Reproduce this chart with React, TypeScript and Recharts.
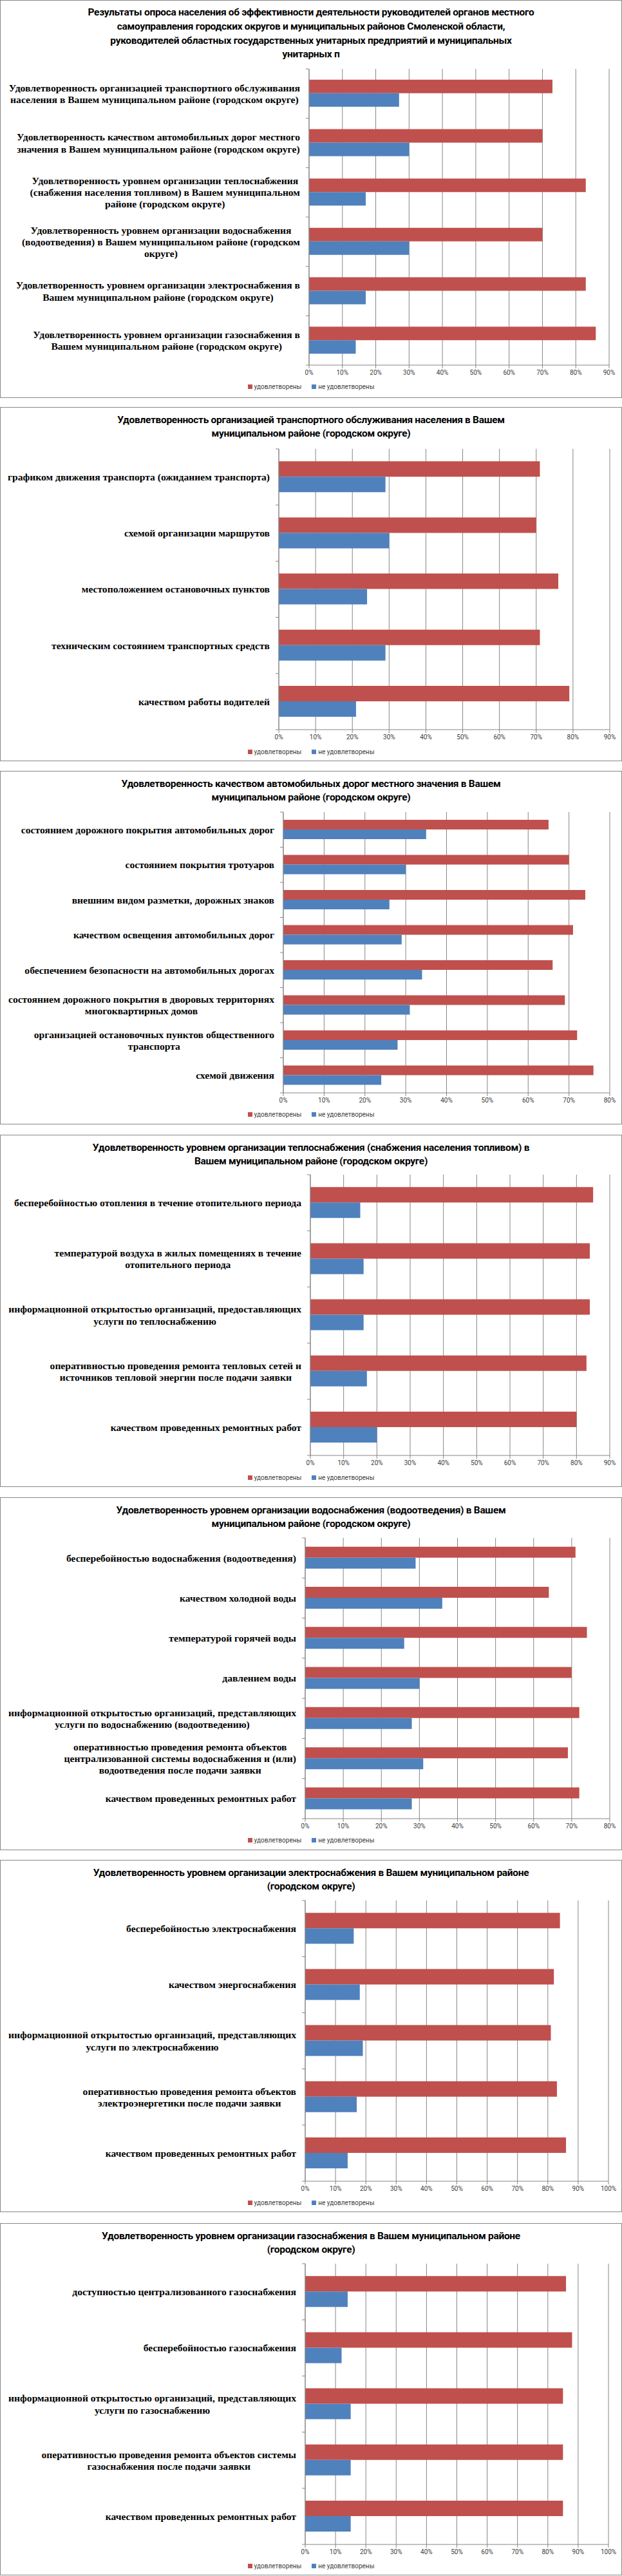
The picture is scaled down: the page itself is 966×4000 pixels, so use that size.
import React from "react";
import { BarChart, Bar, XAxis, YAxis, CartesianGrid, Legend } from "recharts";

const RED = "#C0504D";
const BLUE = "#4F81BD";
const GRID = "#868686";
const W = 966;

// ---- data ----
const seriesNames = ["удовлетворены", "не удовлетворены"];
const seriesColors = [RED, BLUE];

const summaryTitle =
  "Результаты опроса населения об эффективности деятельности руководителей органов местного\nсамоуправления городских округов и муниципальных районов Смоленской области,\nруководителей областных государственных унитарных предприятий и муниципальных\nунитарных п";
const summaryCats = [
  "Удовлетворенность организацией транспортного обслуживания\nнаселения в Вашем муниципальном районе (городском округе)",
  "Удовлетворенность качеством автомобильных дорог местного\nзначения в Вашем муниципальном районе (городском округе)",
  "Удовлетворенность уровнем организации теплоснабжения\n(снабжения населения топливом) в Вашем муниципальном\nрайоне (городском округе)",
  "Удовлетворенность уровнем организации водоснабжения\n(водоотведения) в Вашем муниципальном районе (городском\nокруге)",
  "Удовлетворенность уровнем организации электроснабжения в\nВашем муниципальном районе (городском округе)",
  "Удовлетворенность уровнем организации газоснабжения в\nВашем муниципальном районе (городском округе)",
];
const summaryYes = [73, 70, 83, 70, 83, 86];
const summaryNo = [27, 30, 17, 30, 17, 14];

const transportTitle =
  "Удовлетворенность организацией транспортного обслуживания населения в Вашем\nмуниципальном районе (городском округе)";
const transportCats = [
  "графиком движения транспорта (ожиданием транспорта)",
  "схемой организации маршрутов",
  "местоположением остановочных пунктов",
  "техническим состоянием транспортных средств",
  "качеством работы водителей",
];
const transportYes = [71, 70, 76, 71, 79];
const transportNo = [29, 30, 24, 29, 21];

const roadsTitle =
  "Удовлетворенность качеством автомобильных дорог местного значения в Вашем\nмуниципальном районе (городском округе)";
const roadsCats = [
  "состоянием дорожного покрытия автомобильных дорог",
  "состоянием покрытия тротуаров",
  "внешним видом разметки, дорожных знаков",
  "качеством освещения автомобильных дорог",
  "обеспечением безопасности на автомобильных дорогах",
  "состоянием дорожного покрытия в дворовых территориях\nмногоквартирных домов",
  "организацией остановочных пунктов общественного\nтранспорта",
  "схемой движения",
];
const roadsYes = [65, 70, 74, 71, 66, 69, 72, 76];
const roadsNo = [35, 30, 26, 29, 34, 31, 28, 24];

const heatTitle =
  "Удовлетворенность уровнем организации теплоснабжения (снабжения населения топливом) в\nВашем муниципальном районе (городском округе)";
const heatCats = [
  "бесперебойностью отопления в течение отопительного периода",
  "температурой воздуха в жилых помещениях в течение\nотопительного периода",
  "информационной открытостью организаций, предоставляющих\nуслуги по теплоснабжению",
  "оперативностью проведения ремонта тепловых сетей и\nисточников тепловой энергии после подачи заявки",
  "качеством проведенных ремонтных работ",
];
const heatYes = [85, 84, 84, 83, 80];
const heatNo = [15, 16, 16, 17, 20];

const waterTitle =
  "Удовлетворенность уровнем организации водоснабжения (водоотведения) в Вашем\nмуниципальном районе (городском округе)";
const waterCats = [
  "бесперебойностью водоснабжения (водоотведения)",
  "качеством холодной воды",
  "температурой горячей воды",
  "давлением воды",
  "информационной открытостью организаций, представляющих\nуслуги по водоснабжению (водоотведению)",
  "оперативностью проведения ремонта объектов\nцентрализованной системы водоснабжения и (или)\nводоотведения после подачи заявки",
  "качеством проведенных ремонтных работ",
];
const waterYes = [71, 64, 74, 70, 72, 69, 72];
const waterNo = [29, 36, 26, 30, 28, 31, 28];

const powerTitle =
  "Удовлетворенность уровнем организации электроснабжения в Вашем муниципальном районе\n(городском округе)";
const powerCats = [
  "бесперебойностью электроснабжения",
  "качеством энергоснабжения",
  "информационной открытостью организаций, представляющих\nуслуги по электроснабжению",
  "оперативностью проведения ремонта объектов\nэлектроэнергетики после подачи заявки",
  "качеством проведенных ремонтных работ",
];
const powerYes = [84, 82, 81, 83, 86];
const powerNo = [16, 18, 19, 17, 14];

const gasTitle =
  "Удовлетворенность уровнем организации газоснабжения в Вашем муниципальном районе\n(городском округе)";
const gasCats = [
  "доступностью централизованного газоснабжения",
  "бесперебойностью газоснабжения",
  "информационной открытостью организаций, представляющих\nуслуги по газоснабжению",
  "оперативностью проведения ремонта объектов системы\nгазоснабжения после подачи заявки",
  "качеством проведенных ремонтных работ",
];
const gasYes = [86, 88, 85, 85, 85];
const gasNo = [14, 12, 15, 15, 15];

const ticks80 = [0, 10, 20, 30, 40, 50, 60, 70, 80];
const ticks90 = [0, 10, 20, 30, 40, 50, 60, 70, 80, 90];
const ticks100 = [0, 10, 20, 30, 40, 50, 60, 70, 80, 90, 100];

// ---- helpers ----
const LABEL_SIZE = 15.6;
const LABEL_FONT = `bold ${LABEL_SIZE}px "Liberation Serif"`;
let ctx: CanvasRenderingContext2D | null = null;
function measure(s: string) {
  if (!ctx) ctx = document.createElement("canvas").getContext("2d");
  if (!ctx) return s.length * 8;
  ctx.font = LABEL_FONT;
  return ctx.measureText(s).width;
}

function CatTick(props: any) {
  const { x, y, payload, index, band, count } = props;
  const lines = String(payload.value).split("\n");
  const maxW = Math.max(...lines.map(measure));
  const cx = x - maxW / 2;
  const lh = 18.2;
  const y0 = y - ((lines.length - 1) * lh) / 2;
  const ax = x + 14;
  return (
    <g>
      <line x1={ax - 5} x2={ax} y1={y - band / 2} y2={y - band / 2} stroke={GRID} />
      {index === count - 1 && (
        <line x1={ax - 5} x2={ax} y1={y + band / 2} y2={y + band / 2} stroke={GRID} />
      )}
      <text
        textAnchor="middle"
        fontFamily="Liberation Serif"
        fontWeight="bold"
        fontSize={LABEL_SIZE}
        fill="#000"
      >
        {lines.map((l, i) => (
          <tspan key={i} x={cx} y={y0 + i * lh} dy="0.35em">
            {l}
          </tspan>
        ))}
      </text>
    </g>
  );
}

function LegendRow() {
  return (
    <div
      style={{
        textAlign: "center",
        fontSize: 10,
        fontFamily: "Roboto",
        color: "#404040",
        lineHeight: "14px",
      }}
    >
      {seriesNames.map((n, i) => (
        <span key={n} style={{ marginRight: i === 0 ? 16 : 0 }}>
          <span
            style={{
              display: "inline-block",
              width: 7,
              height: 7,
              background: seriesColors[i],
              marginRight: 3,
              verticalAlign: "middle",
              position: "relative",
              top: -1,
            }}
          />
          {n}
        </span>
      ))}
    </div>
  );
}

type Box = {
  top: number;
  height: number;
  plotTop: number;
  axisY: number;
  left: number;
  right: number;
  legendY: number;
  lineH: number;
};

function Panel(p: {
  title: string;
  cats: string[];
  yes: number[];
  no: number[];
  ticks: number[];
  box: Box;
}) {
  const { title, cats, yes, no, ticks, box } = p;
  const data = cats.map((name, i) => ({ name, yes: yes[i], no: no[i] }));
  const innerW = W - 2;
  const innerH = box.height - 2;
  const band = (box.axisY - box.plotTop) / cats.length;
  const margin = {
    top: box.plotTop - 1,
    right: W - 1 - box.right,
    left: 0,
    bottom: innerH - (box.axisY - 1) - 30,
  };
  return (
    <div
      style={{
        position: "absolute",
        top: box.top,
        left: 0,
        width: W,
        height: box.height,
        boxSizing: "border-box",
        border: "1px solid #888",
        background: "#fff",
      }}
    >
      <div
        style={{
          position: "absolute",
          top: 20 - box.lineH / 2 - 1,
          left: 0,
          width: innerW,
          textAlign: "center",
          fontFamily: "Roboto",
          fontWeight: "bold",
          fontSize: 15.5,
          letterSpacing: -0.3,
          lineHeight: box.lineH + "px",
          whiteSpace: "pre-line",
          color: "#000",
        }}
      >
        {title}
      </div>
      <BarChart
        width={innerW}
        height={innerH}
        data={data}
        layout="vertical"
        margin={margin}
        barCategoryGap="22%"
        barGap={0}
      >
        <CartesianGrid horizontal={false} stroke={GRID} />
        <XAxis
          type="number"
          domain={[0, ticks[ticks.length - 1]]}
          ticks={ticks}
          interval={0}
          tickFormatter={(v: number) => v + "%"}
          axisLine={{ stroke: GRID }}
          tickLine={{ stroke: GRID }}
          tickSize={5}
          tickMargin={3}
          height={30}
          tick={{ fontSize: 10, fill: "#404040", fontFamily: "Roboto" }}
        />
        <YAxis
          type="category"
          dataKey="name"
          width={box.left - 1}
          interval={0}
          axisLine={{ stroke: GRID }}
          tickLine={false}
          tickSize={0}
          tickMargin={14}
          tick={(t: any) => <CatTick {...t} band={band} count={cats.length} />}
        />
        <Legend
          verticalAlign="middle"
          align="center"
          layout="horizontal"
          wrapperStyle={{ top: box.legendY - 8, left: 0, width: innerW }}
          content={() => <LegendRow />}
        />
        <Bar dataKey="yes" name={seriesNames[0]} fill={RED} isAnimationActive={false} />
        <Bar dataKey="no" name={seriesNames[1]} fill={BLUE} isAnimationActive={false} />
      </BarChart>
    </div>
  );
}

export default function App() {
  return (
    <div style={{ position: "relative", width: W, height: 4000, background: "#fff" }}>
      <style>{"body{margin:0}"}</style>
      <Panel
        title={summaryTitle}
        cats={summaryCats}
        yes={summaryYes}
        no={summaryNo}
        ticks={ticks90}
        box={{ top: 0, height: 618, plotTop: 107, axisY: 567, left: 480, right: 946, legendY: 601, lineH: 21.7 }}
      />
      <Panel
        title={transportTitle}
        cats={transportCats}
        yes={transportYes}
        no={transportNo}
        ticks={ticks90}
        box={{ top: 632, height: 550, plotTop: 65, axisY: 501, left: 433, right: 947, legendY: 536, lineH: 21 }}
      />
      <Panel
        title={roadsTitle}
        cats={roadsCats}
        yes={roadsYes}
        no={roadsNo}
        ticks={ticks80}
        box={{ top: 1197, height: 549, plotTop: 64, axisY: 500, left: 440, right: 947, legendY: 534, lineH: 21 }}
      />
      <Panel
        title={heatTitle}
        cats={heatCats}
        yes={heatYes}
        no={heatNo}
        ticks={ticks90}
        box={{ top: 1762, height: 547, plotTop: 62, axisY: 498, left: 482, right: 947, legendY: 533, lineH: 21 }}
      />
      <Panel
        title={waterTitle}
        cats={waterCats}
        yes={waterYes}
        no={waterNo}
        ticks={ticks80}
        box={{ top: 2325, height: 548, plotTop: 63, axisY: 499, left: 474, right: 947, legendY: 533, lineH: 21 }}
      />
      <Panel
        title={powerTitle}
        cats={powerCats}
        yes={powerYes}
        no={powerNo}
        ticks={ticks100}
        box={{ top: 2888, height: 547, plotTop: 63, axisY: 499, left: 474, right: 945, legendY: 533, lineH: 21 }}
      />
      <Panel
        title={gasTitle}
        cats={gasCats}
        yes={gasYes}
        no={gasNo}
        ticks={ticks100}
        box={{ top: 3452, height: 547, plotTop: 63, axisY: 499, left: 474, right: 945, legendY: 533, lineH: 21 }}
      />
    </div>
  );
}
